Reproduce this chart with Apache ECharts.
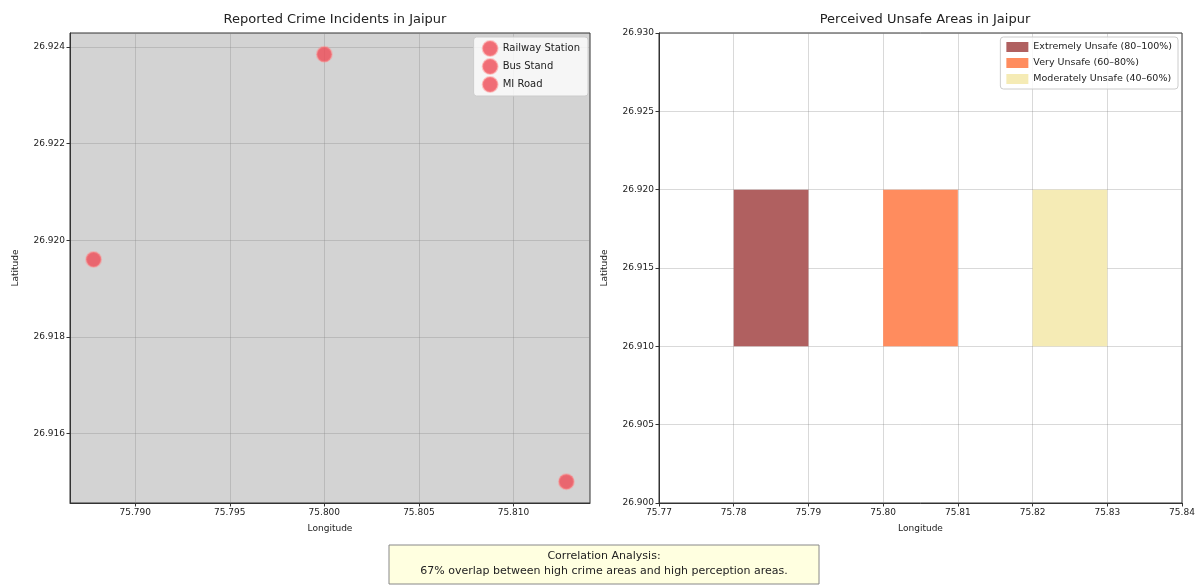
<!DOCTYPE html>
<html><head><meta charset="utf-8">
<script src="https://cdn.jsdelivr.net/npm/echarts@6/dist/echarts.min.js"></script>
<style>html,body{margin:0;padding:0;background:#fff;}#c{width:1198px;height:585px;}</style>
</head><body><div id="c"></div>
<script>
// Left panel: reported crime incidents
const crimeNames = ['Railway Station', 'Bus Stand', 'MI Road'];
const crimeLon = [75.7878, 75.8000, 75.8128];
const crimeLat = [26.9196, 26.92385, 26.9150];
const leftXTicks = [75.790, 75.795, 75.800, 75.805, 75.810];
const leftYTicks = [26.916, 26.918, 26.920, 26.922, 26.924];

// Right panel: perceived unsafe zones
const zoneNames = ['Extremely Unsafe (80–100%)', 'Very Unsafe (60–80%)', 'Moderately Unsafe (40–60%)'];
const zoneLon0 = [75.78, 75.80, 75.82];
const zoneLon1 = [75.79, 75.81, 75.83];
const zoneLat0 = [26.910, 26.910, 26.910];
const zoneLat1 = [26.920, 26.920, 26.920];
const zoneColors = ['#b06060', '#ff8c5e', '#f5ebb5'];
const rightXTicks = [75.77, 75.78, 75.79, 75.80, 75.81, 75.82, 75.83, 75.84];
const rightYTicks = [26.900, 26.905, 26.910, 26.915, 26.920, 26.925, 26.930];

const titles = ['Reported Crime Incidents in Jaipur', 'Perceived Unsafe Areas in Jaipur'];
const noteText = 'Correlation Analysis:\n67% overlap between high crime areas and high perception areas.';

const FONT = 'DejaVu Sans';
const markerColor = '#ef4b56';

function pad(arr) {
  const lo = Math.min(...arr), hi = Math.max(...arr), m = (hi - lo) * 0.05;
  return [lo - m, hi + m];
}
const [lxMin, lxMax] = pad(crimeLon);
const [lyMin, lyMax] = pad(crimeLat);

const gridLine = {show: true, lineStyle: {color: 'rgba(128,128,128,0.3)', width: 1}};
const axLabel = (dec) => ({color: '#222', fontSize: 9, fontFamily: FONT, margin: 5, formatter: v => Number(v).toFixed(dec)});
const axLine = {show: true, lineStyle: {color: '#333', width: 1}};
const axTick = {show: true, length: 3.5, lineStyle: {color: '#333'}};
const nameStyle = {color: '#222', fontSize: 9, fontFamily: FONT};

const chart = echarts.init(document.getElementById('c'), null, {renderer: 'canvas'});

const series = [];
crimeNames.forEach((n, i) => {
  series.push({
    name: n, type: 'scatter', xAxisIndex: 0, yAxisIndex: 0,
    data: [[crimeLon[i], crimeLat[i]]],
    symbol: 'circle', symbolSize: 15,
    itemStyle: {color: markerColor, borderColor: 'rgba(255,140,140,0.55)', borderWidth: 2},
    z: 5
  });
});
zoneNames.forEach((n, i) => {
  series.push({
    name: n, type: 'custom', xAxisIndex: 1, yAxisIndex: 1,
    data: [[zoneLon0[i], zoneLat0[i], zoneLon1[i], zoneLat1[i]]],
    itemStyle: {color: zoneColors[i]},
    renderItem: function (params, api) {
      const p0 = api.coord([api.value(0), api.value(3)]);
      const p1 = api.coord([api.value(2), api.value(1)]);
      return {type: 'rect', shape: {x: p0[0], y: p0[1], width: p1[0] - p0[0], height: p1[1] - p0[1]},
        style: {fill: zoneColors[i]}};
    },
    z: 3
  });
});

chart.setOption({
  animation: false,
  backgroundColor: '#fff',
  title: [
    {text: titles[0], left: 330, top: 8, textAlign: 'center', textStyle: {fontSize: 13, fontWeight: 'normal', color: '#222', fontFamily: FONT}},
    {text: titles[1], left: 920, top: 8, textAlign: 'center', textStyle: {fontSize: 13, fontWeight: 'normal', color: '#222', fontFamily: FONT}}
  ],
  grid: [
    {left: 70, right: 608, top: 33, bottom: 82, show: true, backgroundColor: '#d3d3d3', borderColor: '#333', borderWidth: 1},
    {left: 659, right: 16, top: 33, bottom: 82, show: true, backgroundColor: '#fff', borderColor: '#333', borderWidth: 1}
  ],
  xAxis: [
    {type: 'value', gridIndex: 0, min: lxMin, max: lxMax, name: 'Longitude', nameLocation: 'middle', nameGap: 21, nameTextStyle: nameStyle,
      axisLabel: Object.assign(axLabel(3), {customValues: leftXTicks}), axisTick: Object.assign({}, axTick, {customValues: leftXTicks}),
      axisLine: axLine, splitLine: gridLine},
    {type: 'value', gridIndex: 1, min: 75.77, max: 75.84, name: 'Longitude', nameLocation: 'middle', nameGap: 21, nameTextStyle: nameStyle,
      axisLabel: Object.assign(axLabel(2), {customValues: rightXTicks}), axisTick: Object.assign({}, axTick, {customValues: rightXTicks}),
      axisLine: axLine, splitLine: gridLine}
  ],
  yAxis: [
    {type: 'value', gridIndex: 0, min: lyMin, max: lyMax, name: 'Latitude', nameLocation: 'middle', nameGap: 50, nameRotate: 90, nameTextStyle: nameStyle,
      axisLabel: Object.assign(axLabel(3), {customValues: leftYTicks}), axisTick: Object.assign({}, axTick, {customValues: leftYTicks}),
      axisLine: axLine, splitLine: gridLine},
    {type: 'value', gridIndex: 1, min: 26.900, max: 26.930, name: 'Latitude', nameLocation: 'middle', nameGap: 50, nameRotate: 90, nameTextStyle: nameStyle,
      axisLabel: Object.assign(axLabel(3), {customValues: rightYTicks}), axisTick: Object.assign({}, axTick, {customValues: rightYTicks}),
      axisLine: axLine, splitLine: gridLine}
  ],
  legend: [
    {data: crimeNames, orient: 'vertical', right: 610, top: 37, itemWidth: 15, itemHeight: 15, itemGap: 1, icon: 'circle',
      backgroundColor: 'rgba(255,255,255,0.8)', borderColor: '#ccc', borderWidth: 1, borderRadius: 3, padding: [3, 8, 3, 8],
      textStyle: {fontSize: 10, color: '#222', fontFamily: FONT}},
    {data: zoneNames, orient: 'vertical', right: 20, top: 37, itemWidth: 22, itemHeight: 10, itemGap: 6, icon: 'rect',
      backgroundColor: 'rgba(255,255,255,0.8)', borderColor: '#ccc', borderWidth: 1, borderRadius: 3, padding: [5, 6, 5, 6],
      textStyle: {fontSize: 9.5, color: '#222', fontFamily: FONT}}
  ],
  graphic: [
    {type: 'rect', shape: {x: 389, y: 545, width: 430, height: 39}, style: {fill: '#ffffe0', stroke: '#888', lineWidth: 1}, z: 10},
    {type: 'text', x: 604, y: 549, style: {text: noteText, fill: '#222', fontSize: 11, fontFamily: FONT, textAlign: 'center', textVerticalAlign: 'top', lineHeight: 15}, z: 11}
  ],
  series: series
});
</script></body></html>
